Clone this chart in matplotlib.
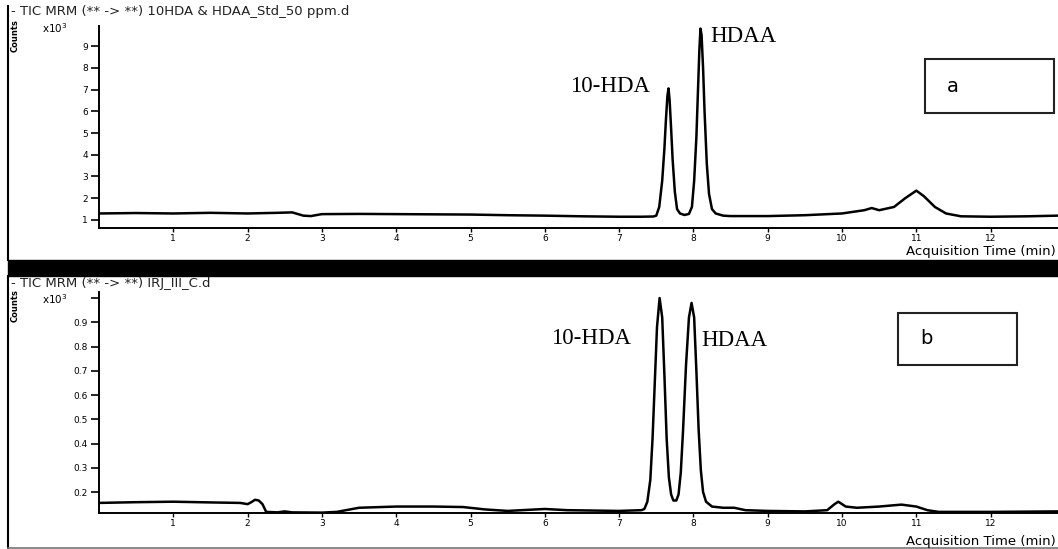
import matplotlib
matplotlib.use("Agg")
import matplotlib.pyplot as plt
from matplotlib.patches import Rectangle

# top trace (a): standard, time in min, counts x10^3
time_a = [0.0, 0.5, 1.0, 1.5, 2.0, 2.4, 2.6, 2.75, 2.85, 3.0, 3.5, 4.0, 4.5, 5.0, 5.5, 6.0,
          6.5, 7.0, 7.3, 7.46, 7.50, 7.54, 7.58, 7.61, 7.63, 7.65, 7.665, 7.68, 7.70, 7.72,
          7.75, 7.78, 7.82, 7.88, 7.94, 7.98, 8.01, 8.04, 8.06, 8.08, 8.095, 8.11, 8.13,
          8.15, 8.18, 8.21, 8.25, 8.3, 8.4, 8.5, 9.0, 9.5, 10.0, 10.3, 10.4, 10.5, 10.7,
          10.85, 11.0, 11.1, 11.25, 11.4, 11.6, 12.0, 12.5, 12.9]
counts_a = [1.30, 1.32, 1.30, 1.33, 1.30, 1.33, 1.35, 1.20, 1.18, 1.27, 1.28, 1.27, 1.26,
            1.25, 1.22, 1.20, 1.17, 1.15, 1.15, 1.16, 1.2, 1.6, 2.8, 4.3, 5.6, 6.7, 7.05,
            6.5, 5.2, 3.8, 2.3, 1.5, 1.3, 1.23, 1.28, 1.6, 2.8, 4.8, 6.8, 8.8, 9.8, 9.5,
            8.0, 6.0, 3.6, 2.2, 1.5, 1.3, 1.2, 1.18, 1.18, 1.22, 1.30, 1.45, 1.55, 1.45,
            1.6, 2.0, 2.35, 2.1, 1.6, 1.3, 1.17, 1.15, 1.17, 1.2]

# bottom trace (b): sample IRJ_III_C
time_b = [0.0, 0.5, 1.0, 1.5, 1.9, 2.0, 2.05, 2.1, 2.15, 2.2, 2.25, 2.4, 2.5, 2.6, 3.0,
          3.2, 3.5, 4.0, 4.5, 4.9, 5.2, 5.5, 6.0, 6.3, 7.0, 7.3, 7.34, 7.38, 7.42, 7.45,
          7.48, 7.51, 7.545, 7.58, 7.61, 7.64, 7.67, 7.70, 7.73, 7.77, 7.80, 7.83, 7.86,
          7.90, 7.94, 7.975, 8.01, 8.04, 8.07, 8.10, 8.13, 8.17, 8.25, 8.4, 8.55, 8.7,
          9.0, 9.5, 9.8, 9.9, 9.95, 10.05, 10.2, 10.5, 10.8, 11.0, 11.15, 11.3, 12.0, 12.9]
counts_b = [0.155, 0.158, 0.160, 0.157, 0.155, 0.150, 0.158, 0.168, 0.165, 0.150, 0.118,
            0.116, 0.120, 0.116, 0.115, 0.118, 0.135, 0.140, 0.140, 0.138, 0.128, 0.122,
            0.130, 0.125, 0.122, 0.125, 0.13, 0.16, 0.25, 0.42, 0.65, 0.88, 1.0, 0.92,
            0.68, 0.42, 0.26, 0.19, 0.165, 0.165, 0.19, 0.28, 0.45, 0.72, 0.92, 0.98,
            0.92, 0.70, 0.46, 0.29, 0.20, 0.16, 0.14, 0.135, 0.135, 0.125, 0.122, 0.120,
            0.125, 0.150, 0.160, 0.140, 0.135, 0.140, 0.148, 0.140, 0.125, 0.118, 0.118,
            0.120]

xticks = list(range(1, 13))
yticks_a = [1, 2, 3, 4, 5, 6, 7, 8, 9]
yticks_b = [0.2, 0.3, 0.4, 0.5, 0.6, 0.7, 0.8, 0.9, 1.0]
ylabels_b = ['0.2', '0.3', '0.4', '0.5', '0.6', '0.7', '0.8', '0.9', '']

W, H = 1058, 549


def px(x, y):
    return x / W, 1 - y / H


fig = plt.figure(figsize=(W / 100, H / 100), dpi=100)
tick_font = dict(fontsize=6.5, family='DejaVu Sans')


def setup(ax, ylim, yticks, ylabels):
    ax.set_xlim(0, 12.907)
    ax.set_ylim(*ylim)
    for s in ['top', 'right']:
        ax.spines[s].set_visible(False)
    for s in ['left', 'bottom']:
        ax.spines[s].set_linewidth(1.4)
    ax.set_xticks(xticks)
    ax.set_xticklabels([str(t) for t in xticks], **tick_font)
    ax.set_yticks(yticks)
    ax.set_yticklabels(ylabels, **tick_font)
    ax.tick_params(axis='y', direction='out', length=6, width=1.2, pad=2)
    ax.tick_params(axis='x', direction='out', length=3, width=1.0, pad=1)
    ax.patch.set_alpha(0)


# top panel
ax1 = fig.add_axes([99 / W, 1 - 228 / H, 1 - 99 / W, (228 - 26) / H])
ax1.plot(time_a, counts_a, color='black', lw=1.8)
setup(ax1, (0.632, 9.92), yticks_a, [str(t) for t in yticks_a])

# bottom panel
ax2 = fig.add_axes([99 / W, 1 - 513 / H, 1 - 99 / W, (513 - 292) / H])
ax2.plot(time_b, counts_b, color='black', lw=1.8)
setup(ax2, (0.1134, 1.025), yticks_b, ylabels_b)

# frame lines and black separator band
fig.patches.append(Rectangle(px(8, 276), 1 - 8 / W, 16 / H, transform=fig.transFigure,
                             color='black', zorder=0))
fig.add_artist(plt.Line2D([8 / W, 8 / W], [px(0, 6)[1], px(0, 260)[1]],
                          transform=fig.transFigure, color='black', lw=1.5))
fig.add_artist(plt.Line2D([8 / W, 8 / W], [px(0, 276)[1], px(0, 548)[1]],
                          transform=fig.transFigure, color='black', lw=1.5))
fig.add_artist(plt.Line2D([8 / W, 1], [px(0, 548)[1]] * 2,
                          transform=fig.transFigure, color='#777777', lw=1.2))

# header texts
fig.text(*px(11, 11), '- TIC MRM (** -> **) 10HDA & HDAA_Std_50 ppm.d', fontsize=9.5,
         va='center', ha='left', color='#222222')
fig.text(*px(11, 283), '- TIC MRM (** -> **) IRJ_III_C.d', fontsize=9.5,
         va='center', ha='left', color='#222222')
for ytop in [36, 306]:
    fig.text(*px(15, ytop), 'Counts', rotation=90, fontsize=6, fontweight='bold',
             va='center', ha='center')
fig.text(*px(42, 28), r'x10$^3$', fontsize=7.5, va='center', ha='left')
fig.text(*px(42, 299), r'x10$^3$', fontsize=7.5, va='center', ha='left')
fig.text(*px(1056, 251), 'Acquisition Time (min)', fontsize=9.5, va='center', ha='right')
fig.text(*px(1056, 541), 'Acquisition Time (min)', fontsize=9.5, va='center', ha='right')

# peak labels
serif = dict(fontsize=16.5, family='Liberation Serif', va='center')
fig.text(*px(570, 87), '10-HDA', ha='left', **serif)
fig.text(*px(710, 37), 'HDAA', ha='left', **serif)
fig.text(*px(551, 339), '10-HDA', ha='left', **serif)
fig.text(*px(701, 340), 'HDAA', ha='left', **serif)

# panel boxes
for (x0, y0, x1, y1, lab) in [(925, 59, 1054, 113, 'a'), (898, 313, 1017, 365, 'b')]:
    fig.patches.append(Rectangle(px(x0, y1), (x1 - x0) / W, (y1 - y0) / H,
                                 transform=fig.transFigure, fill=False,
                                 edgecolor='#222222', lw=1.5))
    fig.text(*px(x0 + 22, (y0 + y1) / 2), lab, fontsize=14, va='center', ha='left')

fig.savefig('out.png', dpi=100)
